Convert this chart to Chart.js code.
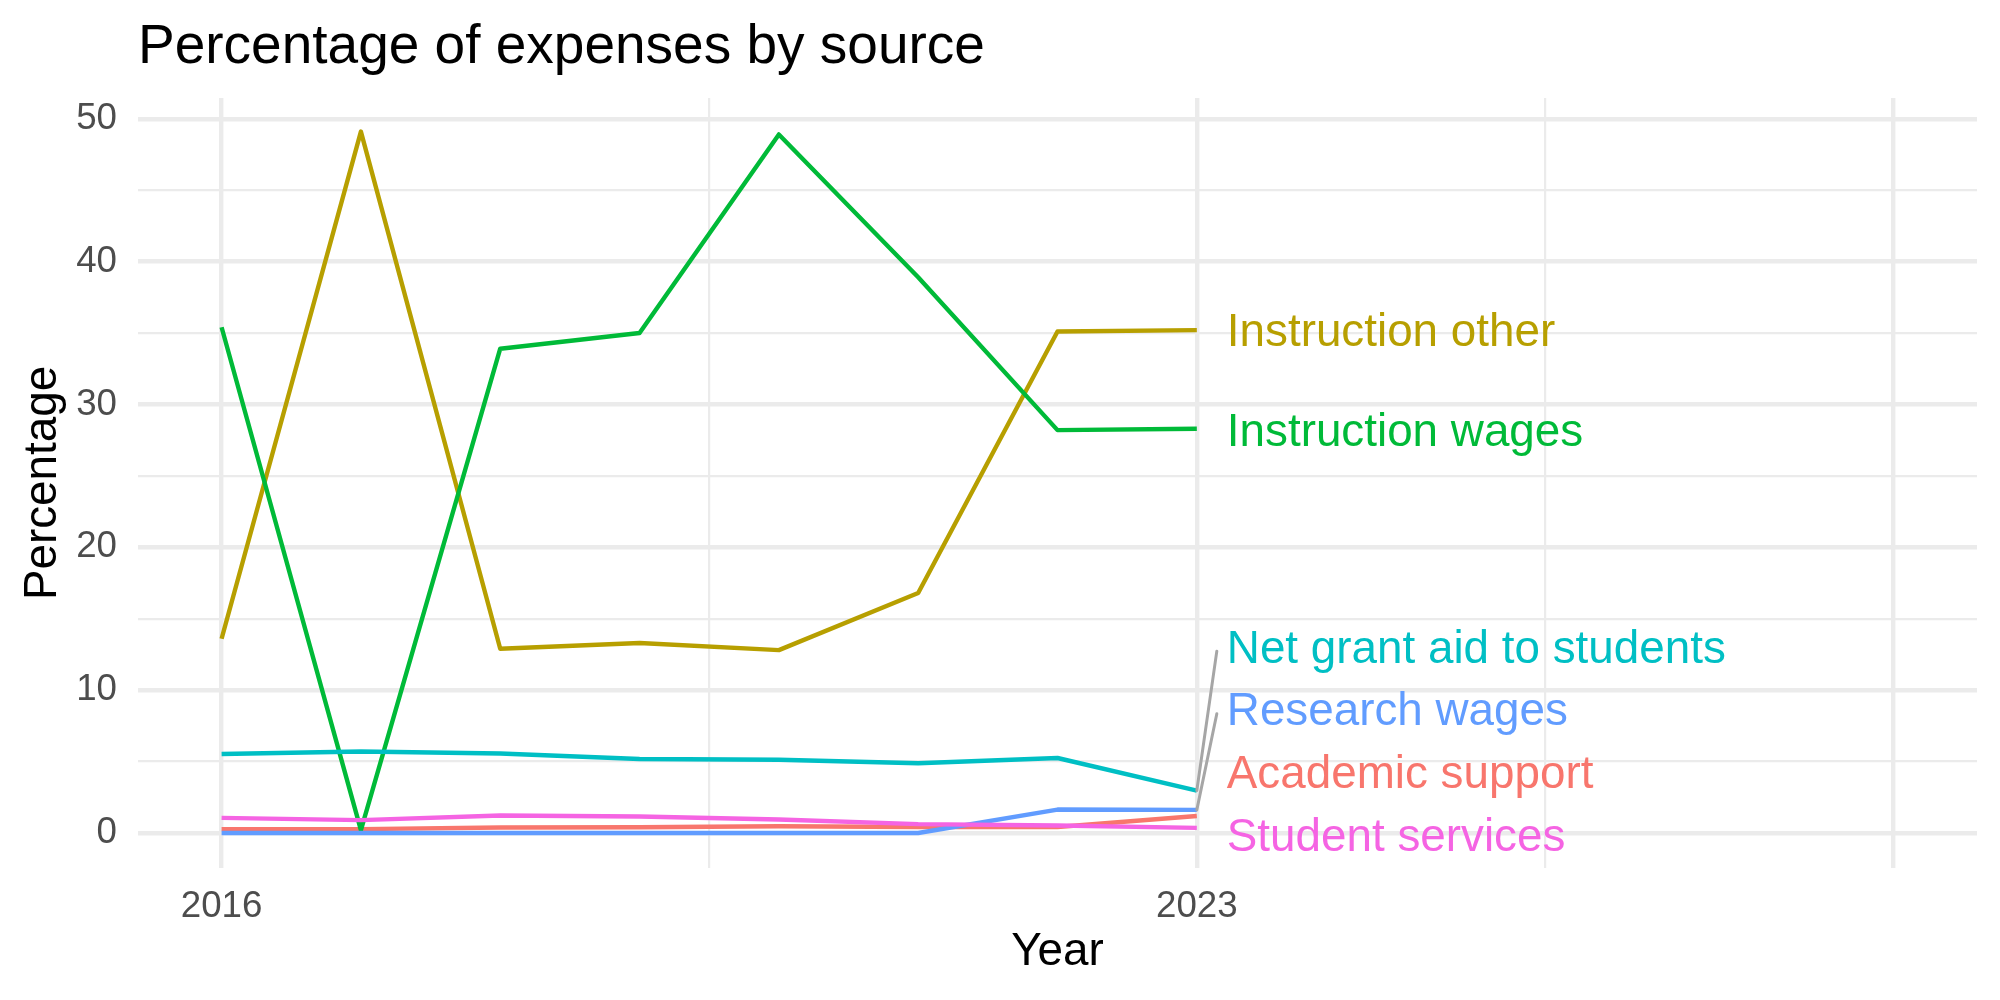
<!DOCTYPE html>
<html>
<head>
<meta charset="utf-8">
<script src="https://cdn.jsdelivr.net/npm/chart.js@4/dist/chart.umd.min.js"></script>
<style>
html,body{margin:0;padding:0;background:#ffffff;}
#wrap{width:2000px;height:1000px;position:relative;}
canvas{display:block;}
</style>
</head>
<body>
<div id="wrap"><canvas id="c" width="2000" height="1000"></canvas></div>
<script>
// ---- data ----
const years = [2016, 2017, 2018, 2019, 2020, 2021, 2022, 2023];
const academicSupport  = [0.27, 0.27, 0.38, 0.40, 0.47, 0.42, 0.42, 1.19];
const instructionOther = [13.6, 49.1, 12.9, 13.3, 12.8, 16.8, 35.1, 35.2];
const instructionWages = [35.4, 0.2, 33.9, 35.0, 48.9, 38.9, 28.2, 28.3];
const netGrantAid      = [5.53, 5.70, 5.56, 5.18, 5.13, 4.88, 5.25, 2.97];
const researchWages    = [0, 0, 0, 0, 0, 0, 1.64, 1.62];
const studentServices  = [1.06, 0.90, 1.22, 1.15, 0.95, 0.62, 0.52, 0.36];
const seriesNames = ['Academic support', 'Instruction other', 'Instruction wages',
                     'Net grant aid to students', 'Research wages', 'Student services'];
const seriesData = [academicSupport, instructionOther, instructionWages,
                    netGrantAid, researchWages, studentServices];
// repelled label positions (y, in data units)
const labelYs = [4.05, 34.95, 28.0, 12.8, 8.42, -0.41];
const xTickValues = [2016, 2019.5, 2023, 2025.5, 2028];
const xMajorValues = [2016, 2023, 2028];
const xTickLabels = {2016: '2016', 2023: '2023'};
const yTickValues = [0, 5, 10, 15, 20, 25, 30, 35, 40, 45, 50];

// ---- styles ----
const seriesColors = ['#F8766D', '#B79F00', '#00BA38', '#00BFC4', '#619CFF', '#F564E3'];
const FONT = '"Liberation Sans", Arial, Helvetica, sans-serif';
const GRID = '#EBEBEB';

const repelLabels = {
  id: 'repelLabels',
  afterDatasetsDraw(chart) {
    const {ctx, scales: {x, y}} = chart;
    const lastYear = years[years.length - 1];
    const xEnd = x.getPixelForValue(lastYear);
    const textX = xEnd + 30;
    ctx.save();
    // segments first
    seriesData.forEach((arr, i) => {
      const py = y.getPixelForValue(arr[arr.length - 1]);
      const ly = y.getPixelForValue(labelYs[i]);
      if (Math.abs(ly - py) > 60) {
        ctx.strokeStyle = '#A6A6A6';
        ctx.lineWidth = 3;
        ctx.lineCap = 'round';
        ctx.beginPath();
        ctx.moveTo(xEnd, py);
        ctx.lineTo(textX - 10, ly + 1);
        ctx.stroke();
      }
    });
    ctx.font = '45.8px ' + FONT;
    ctx.textBaseline = 'middle';
    ctx.textAlign = 'left';
    seriesData.forEach((arr, i) => {
      const ly = y.getPixelForValue(labelYs[i]);
      ctx.fillStyle = seriesColors[i];
      ctx.fillText(seriesNames[i], textX, ly);
    });
    ctx.restore();
  }
};

const datasets = seriesNames.map((name, i) => ({
  label: name,
  data: years.map((yr, j) => ({x: yr, y: seriesData[i][j]})),
  borderColor: seriesColors[i],
  backgroundColor: seriesColors[i],
  borderWidth: 4.4,
  pointRadius: 0,
  tension: 0,
  fill: false,
  borderCapStyle: 'butt',
  borderJoinStyle: 'round',
  order: seriesNames.length - 1 - i
}));

new Chart(document.getElementById('c'), {
  type: 'line',
  data: {datasets},
  options: {
    responsive: false,
    devicePixelRatio: 1,
    animation: false,
    layout: {padding: {left: 0, top: 0, right: 23, bottom: 0}},
    plugins: {
      legend: {display: false},
      tooltip: {enabled: false},
      title: {
        display: true,
        text: 'Percentage of expenses by source',
        align: 'start',
        fullSize: false,
        color: '#000000',
        font: {family: FONT, size: 55, weight: 'normal', lineHeight: 1.2},
        padding: {top: 14.5, bottom: 17.5}
      }
    },
    scales: {
      x: {
        type: 'linear',
        min: 2015.4,
        max: 2028.6,
        afterBuildTicks: s => { s.ticks = xTickValues.map(v => ({value: v})); },
        afterFit: s => { s.height = 132; },
        ticks: {
          callback: v => xTickLabels[v] || '',
          autoSkip: false,
          maxRotation: 0,
          minRotation: 0,
          padding: 17,
          color: '#4D4D4D',
          font: {family: FONT, size: 36.7}
        },
        grid: {
          color: GRID,
          drawTicks: false,
          lineWidth: c => (c.tick && xMajorValues.includes(c.tick.value)) ? 4.4 : 2.2
        },
        border: {display: false},
        title: {
          display: true,
          text: 'Year',
          color: '#000000',
          font: {family: FONT, size: 45.8, lineHeight: 1.2},
          padding: {top: 0, bottom: 20.4}
        }
      },
      y: {
        type: 'linear',
        min: -2.45,
        max: 51.45,
        afterBuildTicks: s => { s.ticks = yTickValues.map(v => ({value: v})); },
        afterFit: s => { s.width = 138; },
        ticks: {
          callback: v => (v % 10 === 0) ? String(v) : '',
          autoSkip: false,
          padding: 21,
          color: '#4D4D4D',
          font: {family: FONT, size: 36.7}
        },
        grid: {
          color: GRID,
          drawTicks: false,
          lineWidth: c => (c.tick && c.tick.value % 10 === 0) ? 4.4 : 2.2
        },
        border: {display: false},
        title: {
          display: true,
          text: 'Percentage',
          color: '#000000',
          font: {family: FONT, size: 45.8, lineHeight: 1.2},
          padding: {top: 15.5, bottom: 0}
        }
      }
    }
  },
  plugins: [repelLabels]
});
</script>
</body>
</html>
